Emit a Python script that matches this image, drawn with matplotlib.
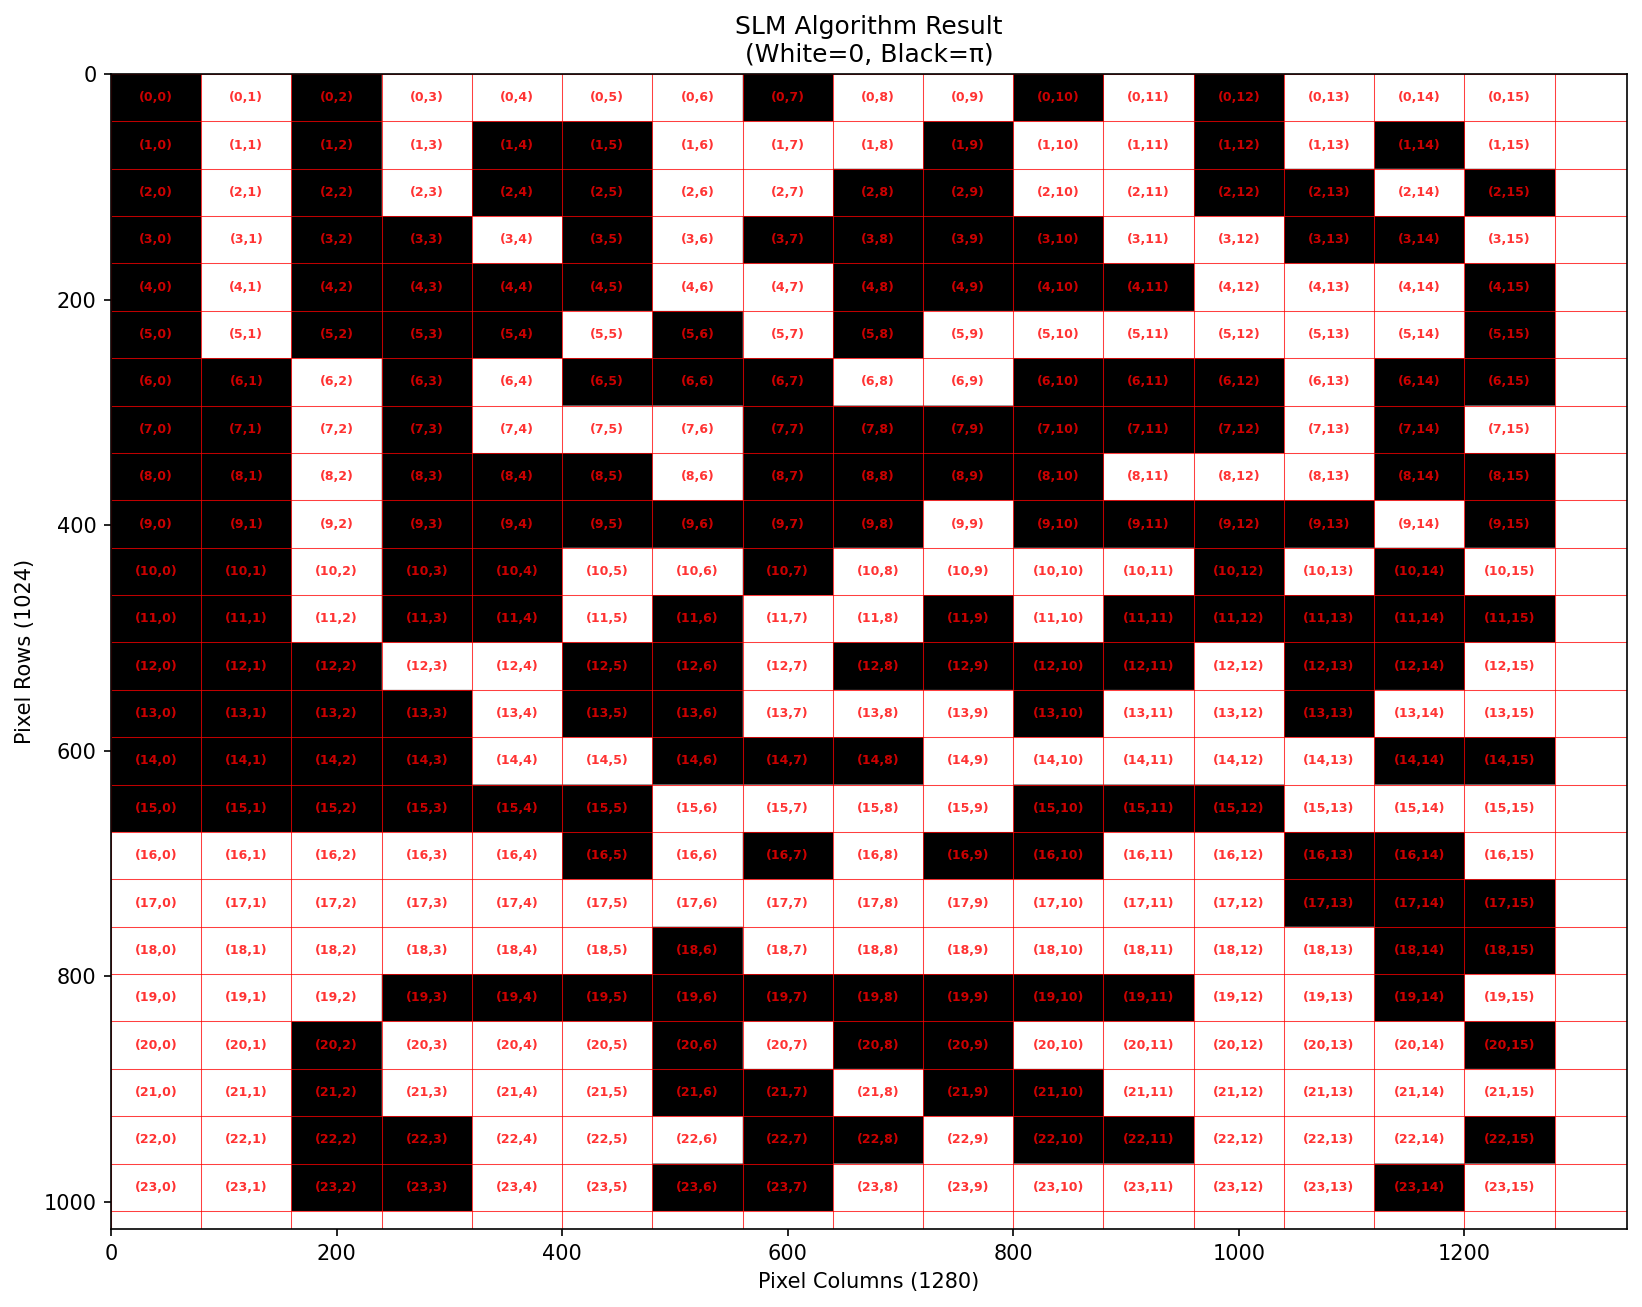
#!/usr/bin/env python
import numpy as np
import matplotlib
matplotlib.use("Agg")
import matplotlib.pyplot as plt

# SLM panel: 1280 x 1024 pixels split into 24 rows x 16 columns of blocks
SLM_WIDTH = 1280
SLM_HEIGHT = 1024
N_ROWS = 24
N_COLS = 16

# Phase of each block, one string per row: 1 = pi (black), 0 = 0 (white)
BLOCK_ROWS = [
    "1010000100101000",
    "1010110001001010",
    "1010110011001101",
    "1011010111100110",
    "1011110011110001",
    "1011101010000001",
    "1101011100111011",
    "1101000111111010",
    "1101110111100011",
    "1101111110111101",
    "1101100100001010",
    "1101101001011111",
    "1110011011110110",
    "1111011000100100",
    "1111001110000011",
    "1111110000111000",
    "0000010101100110",
    "0000000000000111",
    "0000001000000011",
    "0001111111110010",
    "0010001011000001",
    "0010001101100000",
    "0011000110110001",
    "0011001100000010",
]

X_TICKS = [0, 200, 400, 600, 800, 1000, 1200]
Y_TICKS = [0, 200, 400, 600, 800, 1000]


def build_phase_map():
    """Expand the block pattern to a full-resolution phase map."""
    blocks = np.array([[int(c) for c in row] for row in BLOCK_ROWS], dtype=float)
    cell_h = SLM_HEIGHT // N_ROWS
    cell_w = SLM_WIDTH // N_COLS
    phase = np.zeros((SLM_HEIGHT, SLM_WIDTH))
    full = np.kron(blocks, np.ones((cell_h, cell_w))) * np.pi
    phase[:full.shape[0], :full.shape[1]] = full
    return phase, cell_h, cell_w


def plot_phase_map(phase, cell_h, cell_w):
    fig = plt.figure(figsize=(1642 / 150, 1307 / 150), dpi=150)
    ax = fig.add_axes([0.0676, 0.0597, 0.9231, 0.8837])

    ax.imshow(phase, cmap="gray_r", vmin=0, vmax=np.pi,
              extent=(0, SLM_WIDTH, SLM_HEIGHT, 0), aspect="auto")

    # block grid
    for i in range(N_ROWS + 1):
        ax.axhline(i * cell_h, color="red", linewidth=0.5, alpha=0.75)
    for j in range(N_COLS + 1):
        ax.axvline(j * cell_w, color="red", linewidth=0.5, alpha=0.75)

    # block labels
    for i in range(N_ROWS):
        for j in range(N_COLS):
            ax.text(j * cell_w + cell_w / 2, i * cell_h + cell_h / 2, f"({i},{j})",
                    ha="center", va="center", fontsize=6, fontweight="bold",
                    color="red", alpha=0.8)

    ax.set_xlim(0, 1344)
    ax.set_ylim(SLM_HEIGHT, 0)
    ax.set_xticks(X_TICKS)
    ax.set_yticks(Y_TICKS)
    ax.set_xlabel("Pixel Columns (1280)")
    ax.set_ylabel("Pixel Rows (1024)")
    ax.set_title("SLM Algorithm Result\n(White=0, Black=π)", fontsize=12)

    fig.savefig("out.png", dpi=150)


def main():
    phase, cell_h, cell_w = build_phase_map()
    plot_phase_map(phase, cell_h, cell_w)


if __name__ == "__main__":
    main()
